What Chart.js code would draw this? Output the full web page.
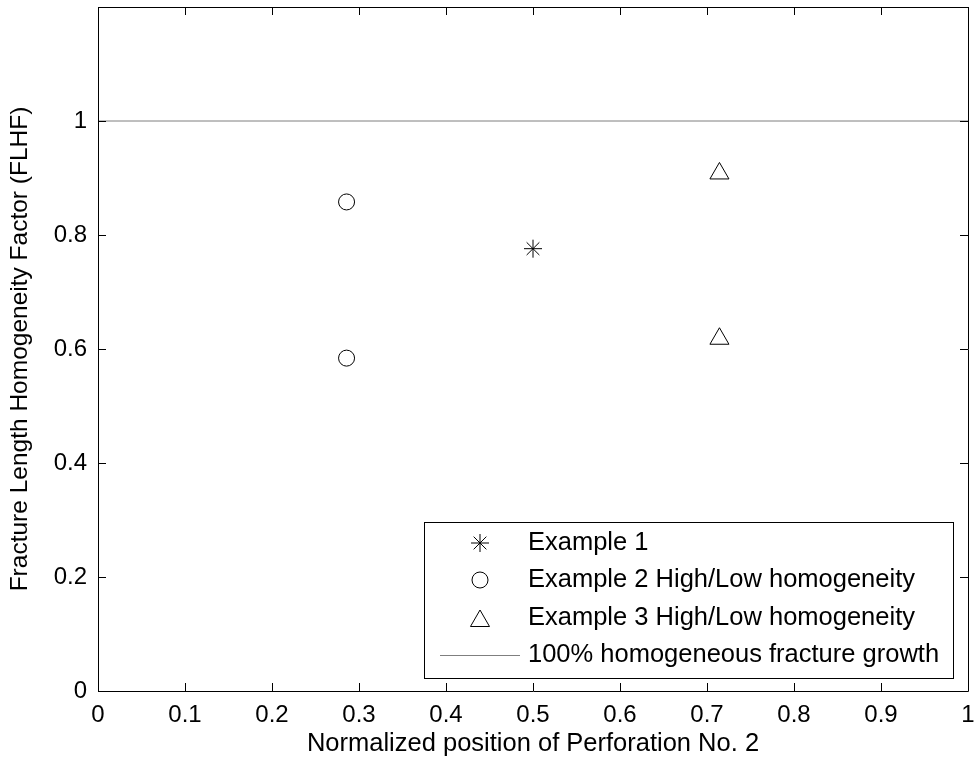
<!DOCTYPE html>
<html>
<head>
<meta charset="utf-8">
<script src="https://cdn.jsdelivr.net/npm/chart.js@4.4.1/dist/chart.umd.min.js"></script>
<style>
    html, body { margin: 0; padding: 0; background: #fff; }
    #wrap { width: 974px; height: 766px; }
</style>
</head>
<body>
<div id="wrap"><canvas id="chart" width="974" height="766"></canvas></div>
<script>
// Data
const example1X = [0.5];
const example1Y = [0.776];
const example2X = [0.2857, 0.2857];
const example2Y = [0.858, 0.584];
const example3X = [0.7143, 0.7143];
const example3Y = [0.908, 0.618];
const refX = [0, 1];
const refY = [1, 1];

const seriesLabels = [
    'Example 1',
    'Example 2 High/Low homogeneity',
    'Example 3 High/Low homogeneity',
    '100% homogeneous fracture growth'
];
const xTicks = [0, 0.1, 0.2, 0.3, 0.4, 0.5, 0.6, 0.7, 0.8, 0.9, 1];
const yTicks = [0, 0.2, 0.4, 0.6, 0.8, 1];

const FONT = "'Liberation Sans', Arial, sans-serif";

function toPoints(xs, ys) {
    return xs.map((x, i) => ({ x: x, y: ys[i] }));
}

// Box around the axes with inward ticks on all sides (MATLAB style)
const frameTicks = {
    id: 'frameTicks',
    afterDatasetsDraw(chart) {
        const { ctx, chartArea: a, scales } = chart;
        const len = 8;
        ctx.save();
        ctx.strokeStyle = '#000';
        ctx.lineWidth = 1;
        ctx.beginPath();
        ctx.rect(a.left + 0.5, a.top + 0.5, a.right - a.left, a.bottom - a.top);
        xTicks.forEach(v => {
            const px = Math.round(scales.x.getPixelForValue(v)) + 0.5;
            ctx.moveTo(px, a.bottom); ctx.lineTo(px, a.bottom - len);
            ctx.moveTo(px, a.top); ctx.lineTo(px, a.top + len);
        });
        yTicks.concat([1.2]).forEach(v => {
            const py = Math.round(scales.y.getPixelForValue(v)) + 0.5;
            ctx.moveTo(a.left, py); ctx.lineTo(a.left + len, py);
            ctx.moveTo(a.right, py); ctx.lineTo(a.right - len, py);
        });
        ctx.stroke();
        ctx.restore();
    }
};

// Legend box drawn inside the lower right of the plot
const insideLegend = {
    id: 'insideLegend',
    afterDraw(chart) {
        const ctx = chart.ctx;
        const box = { left: 424, top: 522, right: 953, bottom: 678 };
        const rows = [543, 580, 618, 655];
        ctx.save();
        ctx.fillStyle = '#fff';
        ctx.fillRect(box.left, box.top, box.right - box.left, box.bottom - box.top);
        ctx.strokeStyle = '#000';
        ctx.lineWidth = 1;
        ctx.strokeRect(box.left + 0.5, box.top + 0.5, box.right - box.left, box.bottom - box.top);

        chart.data.datasets.forEach((ds, i) => {
            const y = rows[i];
            ctx.strokeStyle = ds.borderColor;
            if (ds.showLine) {
                ctx.lineWidth = ds.borderWidth;
                ctx.beginPath();
                ctx.moveTo(440, y + 0.5);
                ctx.lineTo(520, y + 0.5);
                ctx.stroke();
            } else {
                ctx.lineWidth = 1;
                ctx.fillStyle = ds.backgroundColor;
                Chart.helpers.drawPoint(ctx, {
                    pointStyle: ds.pointStyle,
                    radius: ds.pointRadius,
                    borderWidth: 1
                }, 480, ds.pointStyle === 'triangle' ? y + 3 : y);
            }
            ctx.fillStyle = '#000';
            ctx.font = '25.5px ' + FONT;
            ctx.textBaseline = 'middle';
            ctx.textAlign = 'left';
            ctx.fillText(ds.label, 528, y);
        });
        ctx.restore();
    }
};

const ctx = document.getElementById('chart').getContext('2d');

new Chart(ctx, {
    type: 'scatter',
    data: {
        datasets: [
            {
                label: seriesLabels[0],
                data: toPoints(example1X, example1Y),
                pointStyle: 'star',
                pointRadius: 9,
                borderColor: '#000',
                backgroundColor: '#000',
                borderWidth: 1,
                showLine: false
            },
            {
                label: seriesLabels[1],
                data: toPoints(example2X, example2Y),
                pointStyle: 'circle',
                pointRadius: 8,
                borderColor: '#000',
                backgroundColor: 'rgba(0,0,0,0)',
                borderWidth: 1,
                showLine: false
            },
            {
                label: seriesLabels[2],
                data: toPoints(example3X, example3Y),
                pointStyle: 'triangle',
                pointRadius: 11,
                borderColor: '#000',
                backgroundColor: 'rgba(0,0,0,0)',
                borderWidth: 1,
                showLine: false
            },
            {
                label: seriesLabels[3],
                data: toPoints(refX, refY),
                pointRadius: 0,
                borderColor: '#7f7f7f',
                borderWidth: 1,
                showLine: true
            }
        ]
    },
    options: {
        responsive: false,
        animation: false,
        layout: { autoPadding: false, padding: { top: 7, right: 6, left: 0, bottom: 0 } },
        plugins: {
            legend: { display: false },
            tooltip: { enabled: false }
        },
        scales: {
            x: {
                type: 'linear',
                min: 0,
                max: 1,
                afterBuildTicks: s => { s.ticks = xTicks.map(v => ({ value: v })); },
                afterFit: s => { s.height = 75; s.paddingLeft = 0; s.paddingRight = 0; },
                grid: { display: false, drawTicks: false },
                border: { display: false },
                ticks: {
                    color: '#000',
                    padding: 10,
                    maxRotation: 0,
                    font: { family: FONT, size: 24 },
                    callback: v => String(v)
                },
                title: {
                    display: true,
                    text: 'Normalized position of Perforation No. 2',
                    color: '#000',
                    font: { family: FONT, size: 25.5 },
                    padding: { top: 0, bottom: 7 }
                }
            },
            y: {
                type: 'linear',
                min: 0,
                max: 1.2,
                afterBuildTicks: s => { s.ticks = yTicks.map(v => ({ value: v })); },
                afterFit: s => { s.width = 98; s.paddingTop = 0; s.paddingBottom = 0; },
                grid: { display: false, drawTicks: false },
                border: { display: false },
                ticks: {
                    color: '#000',
                    padding: 11,
                    font: { family: FONT, size: 24 },
                    callback: v => String(v)
                },
                title: {
                    display: true,
                    text: 'Fracture Length Homogeneity Factor (FLHF)',
                    color: '#000',
                    font: { family: FONT, size: 24.5 },
                    padding: { top: 6, bottom: 0 }
                }
            }
        }
    },
    plugins: [frameTicks, insideLegend]
});
</script>
</body>
</html>
